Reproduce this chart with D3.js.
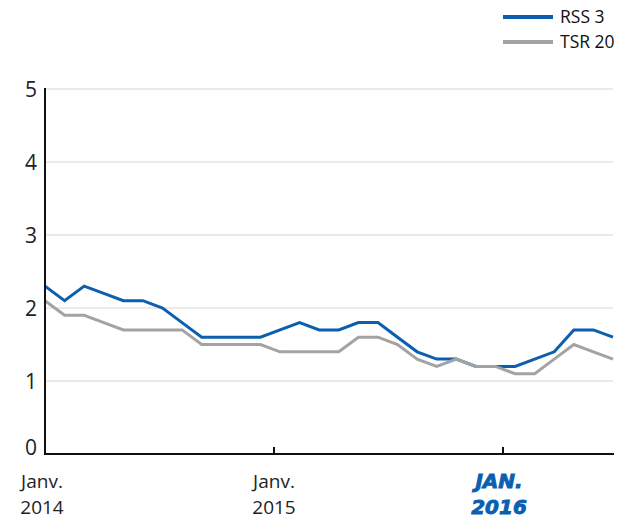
<!DOCTYPE html>
<html>
<head>
<meta charset="utf-8">
<script src="https://cdn.jsdelivr.net/npm/d3@7"></script>
<style>
  html, body { margin: 0; padding: 0; background: #fff; }
  svg { display: block; font-family: "Open Sans", "Noto Sans", sans-serif; }
</style>
</head>
<body>
<svg id="chart" width="624" height="520"></svg>
<script>
// Monthly values, January 2014 to June 2016
const months = d3.range(30).map(i => new Date(2014, i, 1));
const rss3  = [2.3, 2.1, 2.3, 2.2, 2.1, 2.1, 2.0, 1.8, 1.6, 1.6, 1.6, 1.6, 1.7, 1.8, 1.7,
               1.7, 1.8, 1.8, 1.6, 1.4, 1.3, 1.3, 1.2, 1.2, 1.2, 1.3, 1.4, 1.7, 1.7, 1.6];
const tsr20 = [2.1, 1.9, 1.9, 1.8, 1.7, 1.7, 1.7, 1.7, 1.5, 1.5, 1.5, 1.5, 1.4, 1.4, 1.4,
               1.4, 1.6, 1.6, 1.5, 1.3, 1.2, 1.3, 1.2, 1.2, 1.1, 1.1, 1.3, 1.5, 1.4, 1.3];
const yTicks = [0, 1, 2, 3, 4, 5];
const yearTicks = [2014, 2015, 2016];
const yearLabels = [["Janv.", "2014"], ["Janv.", "2015"], ["JAN.", "2016"]];
const seriesNames = ["RSS 3", "TSR 20"];

const BLUE = "#0b5fae", GREY = "#a3a3a3";

const svg = d3.select("#chart");
const m = { left: 45, right: 613, top: 89, bottom: 454 };

const x = d3.scaleLinear().domain([0, months.length - 1]).range([m.left, m.right]);
const xYear = d3.scaleLinear().domain([2014, 2016]).range([m.left, 503]);
const y = d3.scaleLinear().domain([0, 5]).range([m.bottom, m.top]);

// horizontal gridlines
svg.append("g").selectAll("line").data(yTicks.filter(d => d > 0)).join("line")
  .attr("x1", m.left).attr("x2", m.right)
  .attr("y1", d => y(d)).attr("y2", d => y(d))
  .attr("stroke", "#d6d6d6").attr("stroke-width", 1.2);

// y labels
svg.append("g").selectAll("text").data(yTicks).join("text")
  .attr("x", 37).attr("y", d => y(d) - (d === 0 ? 7 : 0))
  .attr("dy", "0.36em").attr("text-anchor", "end")
  .attr("font-size", 21).attr("fill", "#222")
  .text(d => d);

// lines
const line = vals => d3.line().x((d, i) => x(i)).y(d => y(d))(vals);
svg.append("path").attr("d", line(rss3)).attr("fill", "none")
  .attr("stroke", BLUE).attr("stroke-width", 3);
svg.append("path").attr("d", line(tsr20)).attr("fill", "none")
  .attr("stroke", GREY).attr("stroke-width", 3);

// axes
svg.append("line").attr("x1", m.left).attr("x2", m.left).attr("y1", m.top - 1).attr("y2", m.bottom + 1)
  .attr("stroke", "#111").attr("stroke-width", 2);
svg.append("line").attr("x1", m.left - 1).attr("x2", m.right + 1).attr("y1", m.bottom).attr("y2", m.bottom)
  .attr("stroke", "#111").attr("stroke-width", 2);
svg.append("g").selectAll("line").data(yearTicks.slice(1)).join("line")
  .attr("x1", d => xYear(d)).attr("x2", d => xYear(d))
  .attr("y1", m.bottom - 7).attr("y2", m.bottom)
  .attr("stroke", "#111").attr("stroke-width", 2);

// x labels; the current year is highlighted in heavy blue italics
const xl = svg.append("g").selectAll("text").data(yearTicks).join("text")
  .attr("text-anchor", "middle")
  .attr("font-size", (d, i) => i === 2 ? 20 : 19)
  .attr("fill", (d, i) => i === 2 ? BLUE : "#222")
  .attr("stroke", (d, i) => i === 2 ? BLUE : null)
  .attr("stroke-width", (d, i) => i === 2 ? 0.9 : null)
  .attr("font-weight", (d, i) => i === 2 ? 700 : 400)
  .attr("font-style", (d, i) => i === 2 ? "italic" : "normal")
  .attr("font-family", (d, i) => i === 2 ? "'DejaVu Sans', sans-serif" : null)
  .attr("transform", (d, i) => `translate(${xYear(d) - (i === 0 ? 3 : i === 2 ? 4 : 0)},0)`);
xl.append("tspan").attr("x", 0).attr("y", 488).text((d, i) => yearLabels[i][0]);
xl.append("tspan").attr("x", 0).attr("y", 514).text((d, i) => yearLabels[i][1]);

// legend
const legend = svg.append("g").selectAll("g").data(seriesNames).join("g")
  .attr("transform", (d, i) => `translate(503,${17 + i * 25})`);
legend.append("line").attr("x1", 0).attr("x2", 50)
  .attr("stroke", (d, i) => i === 0 ? BLUE : GREY).attr("stroke-width", 4);
legend.append("text").attr("x", 57).attr("dy", "0.36em")
  .attr("font-size", 17.5).attr("fill", "#111").text(d => d);
</script>
</body>
</html>
